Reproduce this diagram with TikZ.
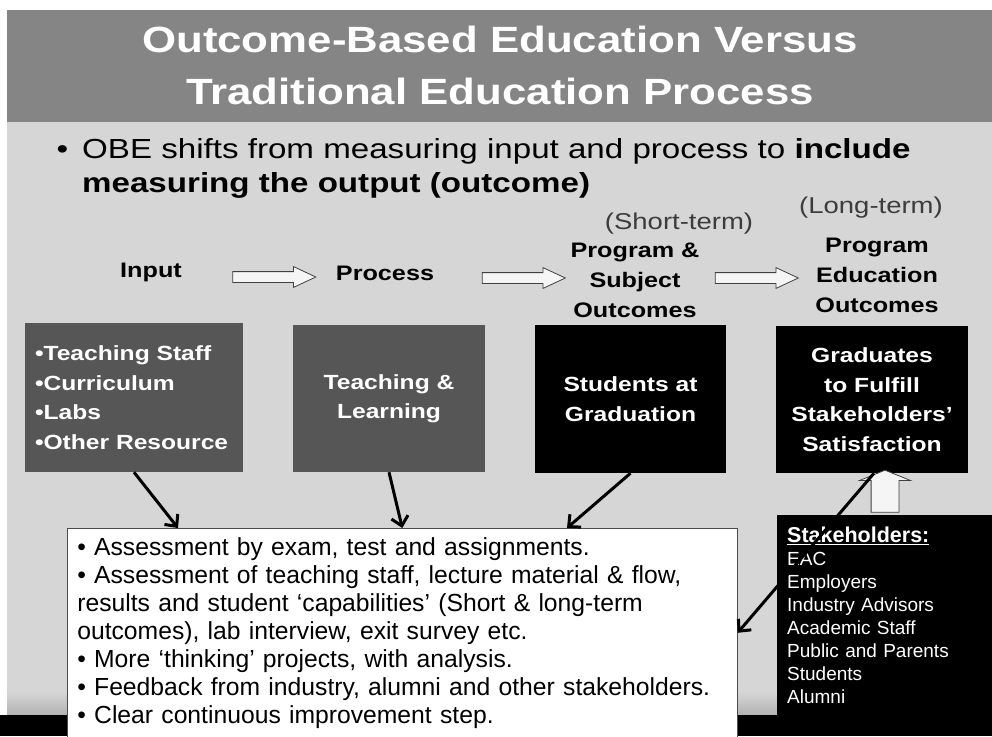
\documentclass[tikz,border=0pt]{standalone}
\usepackage{fontspec}
\setmainfont{Liberation Sans}
\newfontfamily\slidefont{Liberation Sans}[FakeStretch=1.2]
\usetikzlibrary{arrows.meta,shapes.arrows}
\definecolor{titlegray}{HTML}{858585}
\definecolor{slidegray}{HTML}{D6D6D6}
\definecolor{footgray}{HTML}{B2B2B2}
\definecolor{boxgray}{HTML}{565656}
\definecolor{termgray}{HTML}{3C3C3C}

\begin{document}
\begin{tikzpicture}[x=1pt, y=-1pt,
		stagebox/.style={inner sep=0pt, minimum width=192pt, minimum height=148pt, text=white, align=center, font=\slidefont\bfseries\fontsize{20.5}{29.5}\selectfont},
		stagelabel/.style={inner sep=0pt, align=center, font=\slidefont\bfseries\fontsize{21}{30}\selectfont},
		termlabel/.style={inner sep=0pt, text=termgray, font=\slidefont\fontsize{22.9}{28}\selectfont},
		hollowarrow/.style={single arrow, draw=black!75, fill=white!96!black, line width=0.8pt, inner xsep=0pt, inner ysep=5pt, minimum width=20pt, minimum height=83pt, single arrow head extend=5pt, single arrow tip angle=50},
		connarrow/.style={draw, line width=3pt, -{Straight Barb[length=9pt, width=17pt]}}]
			\useasboundingbox (0,0) rectangle (992,736);
			\clip (0,0) rectangle (992,736);
			\fill[white] (0,0) rectangle (992,736);
			\fill[slidegray] (7,10) rectangle (992,715);
			\fill[titlegray] (7,10) rectangle (992,122);
			\shade[top color=slidegray, bottom color=footgray] (7,692) rectangle (992,715);
			\fill[black] (0,715) rectangle (992,736);

			\node (title) [anchor=north, inner sep=0pt, align=center, text=white, font=\slidefont\bfseries\fontsize{36.5}{52}\selectfont] at (500,26) {Outcome-Based Education Versus\\Traditional Education Process};
			\node (obeline) [anchor=north west, inner sep=0pt, align=left, font=\slidefont\fontsize{27.6}{34}\selectfont] at (82,138) {\llap{•\hspace{14pt}}OBE shifts from measuring input and process to \textbf{include}\\\textbf{measuring the output (outcome)}};

			\node (shortterm) [termlabel, anchor=base] at (679,229) {(Short-term)};
			\node (longterm) [termlabel, anchor=base] at (871,213) {(Long-term)};
			\node (inputlbl) [stagelabel, anchor=base] at (151,277) {Input};
			\node (proclbl) [stagelabel, anchor=base] at (385,280) {Process};
			\node (subjlbl) [stagelabel, anchor=north] at (635,242.7) {Program \&\\Subject\\Outcomes};
			\node (peolbl) [stagelabel, anchor=north] at (877,238) {Program\\Education\\Outcomes};

			\node (arrowa) [hollowarrow] at (268.5,277) {};
			\node (arrowb) [hollowarrow] at (518,278) {};
			\node (arrowc) [hollowarrow] at (751,278) {};

			\node (inputbox) [stagebox, fill=boxgray, minimum width=218pt, minimum height=149pt, text width=198pt, align=left] at (134,397.5) {•Teaching Staff\\•Curriculum\\•Labs\\•Other Resource};
			\node (procbox) [stagebox, fill=boxgray, minimum height=147pt] at (389,398.5) {Teaching \&\\Learning};
			\node (gradbox) [stagebox, fill=black, minimum width=191pt] at (630.5,399) {Students at\\Graduation};
			\node (satbox) [stagebox, fill=black, minimum height=147pt] at (872,399.5) {Graduates\\to Fulfill\\Stakeholders’\\Satisfaction};

			\node (stakebox) [anchor=north west, fill=black, text=white, inner sep=0pt, minimum width=215pt, minimum height=200pt, text width=195pt, align=left, font=\fontsize{19}{23}\selectfont] at (777,515) {\underline{\textbf{\fontsize{21.5}{23}\selectfont Stakeholders:}}\\EAC\\Employers\\Industry Advisors\\Academic Staff\\Public and Parents\\Students\\Alumni};
			\node (uparrow) [hollowarrow, shape border rotate=90, inner sep=13.5pt, minimum height=42pt, minimum width=50pt, single arrow head extend=11.5pt, single arrow tip angle=136] at (885,494) {};

			\node (obebox) [anchor=north west, draw=black!70, line width=0.6pt, fill=white, inner xsep=10pt, inner ysep=9pt, text width=650pt, align=left, font=\fontsize{24.7}{28}\selectfont] at (67,528) {• Assessment by exam, test and assignments.\\• Assessment of teaching staff, lecture material \& flow,\\results and student ‘capabilities’ (Short \& long-term\\outcomes), lab interview, exit survey etc.\\• More ‘thinking’ projects, with analysis.\\• Feedback from industry, alumni and other stakeholders.\\• Clear continuous improvement step.};

			\path
			  (inputbox.south) edge[connarrow] ([xshift=111pt]obebox.north west)
			  (procbox.south) edge[connarrow] (obebox.north)
			  (gradbox.south) edge[connarrow] ([xshift=500pt]obebox.north west)
			  ([xshift=2pt]satbox.south) edge[connarrow] (obebox.east);
		  \end{tikzpicture}
\end{document}
